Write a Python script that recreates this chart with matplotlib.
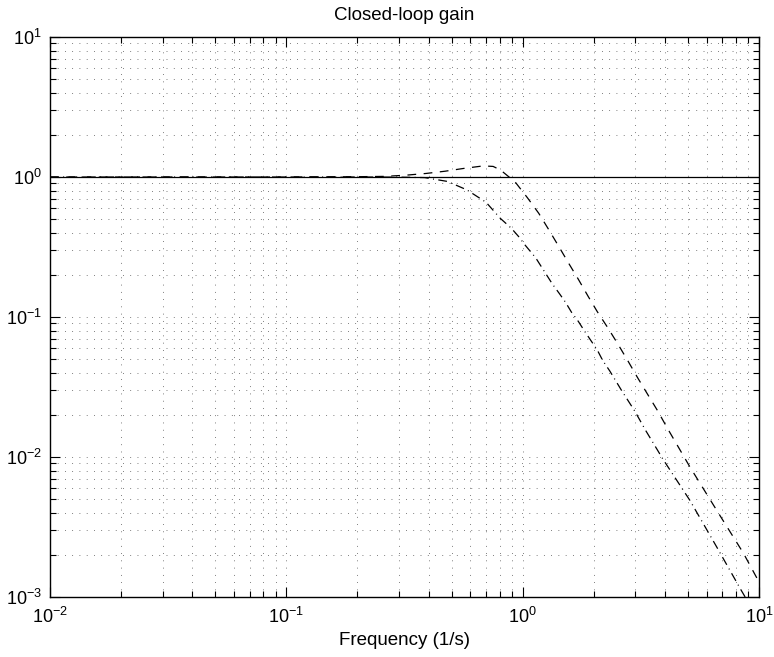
import matplotlib
matplotlib.use("Agg")
import matplotlib.pyplot as plt
from matplotlib.ticker import LogLocator, LogFormatterMathtext, NullFormatter

plt.rcParams['font.family'] = ['Liberation Sans', 'DejaVu Sans']
plt.rcParams['mathtext.fontset'] = 'custom'
plt.rcParams['mathtext.rm'] = 'Liberation Sans'
plt.rcParams['mathtext.it'] = 'Liberation Sans'
plt.rcParams['mathtext.bf'] = 'Liberation Sans'

# Solid reference line (unity gain)
w_solid = [0.01, 10.0]
g_solid = [1.0, 1.0]

# Dashed curve
w_dash = [0.01, 0.05, 0.1, 0.2, 0.26, 0.32, 0.39, 0.47, 0.56, 0.68, 0.75, 0.807,
          0.93, 1.048, 1.17, 1.29, 1.42, 1.57, 1.72, 1.89, 2.07, 2.29, 2.53, 2.78,
          3.06, 3.38, 3.73, 4.1, 5.1, 6.6, 8.6, 10.0]
g_dash = [1.0, 1.0, 1.0, 1.005, 1.01, 1.03, 1.06, 1.10, 1.15, 1.20, 1.19, 1.12,
          0.92, 0.71, 0.55, 0.42, 0.32, 0.24, 0.186, 0.141, 0.109, 0.084, 0.064, 0.049,
          0.037, 0.028, 0.0213, 0.016, 0.0085, 0.0042, 0.00205, 0.00128]

# Dash-dot curve
w_dd = [0.01, 0.05, 0.1, 0.2, 0.3, 0.385, 0.48, 0.58, 0.70, 0.804, 0.896, 0.962,
        1.026, 1.135, 1.25, 1.336, 1.43, 1.52, 1.61, 1.72, 1.83, 2.07, 2.18, 2.34,
        2.63, 2.98, 3.32, 3.93, 5.1, 6.6, 8.4, 8.8]
g_dd = [1.0, 1.0, 1.0, 1.0, 0.998, 0.99, 0.93, 0.81, 0.66, 0.507, 0.43, 0.375,
        0.325, 0.265, 0.205, 0.172, 0.147, 0.127, 0.108, 0.093, 0.079, 0.058, 0.049, 0.041,
        0.0296, 0.0213, 0.0154, 0.0096, 0.0049, 0.0023, 0.00112, 0.00098]

fig = plt.figure(figsize=(7.74, 6.57), dpi=100)
ax = fig.add_axes([50/774, 1 - 597/657, 709/774, 560/657])

ax.loglog(w_solid, g_solid, color='black', lw=0.9, ls='-')
ax.loglog(w_dash, g_dash, color='black', lw=0.9, ls=(0, (7, 6)))
ax.loglog(w_dd, g_dd, color='black', lw=0.9, ls=(0, (7, 3.5, 0.8, 3.5)))

ax.set_xlim(1e-2, 1e1)
ax.set_ylim(1e-3, 1e1)

for a in (ax.xaxis, ax.yaxis):
    a.set_major_locator(LogLocator(base=10, numticks=10))
    a.set_minor_locator(LogLocator(base=10, subs=range(2, 10), numticks=100))
    a.set_major_formatter(LogFormatterMathtext())
    a.set_minor_formatter(NullFormatter())

ax.grid(True, which='both', color='0.2', ls=(0, (1, 8.5)), lw=0.55)
ax.tick_params(which='both', direction='in', top=True, right=True, labelsize=13, colors='black')
ax.tick_params(which='major', length=7, width=0.8)
ax.tick_params(which='minor', length=4, width=0.8)
for s in ax.spines.values():
    s.set_linewidth(1.0)
ax.tick_params(axis='x', pad=7)
ax.tick_params(axis='y', pad=6)

ax.set_title('Closed-loop gain', fontsize=13.5, pad=12)
ax.set_xlabel('Frequency (1/s)', fontsize=13.5, labelpad=4)

fig.savefig('out.png', dpi=100)
